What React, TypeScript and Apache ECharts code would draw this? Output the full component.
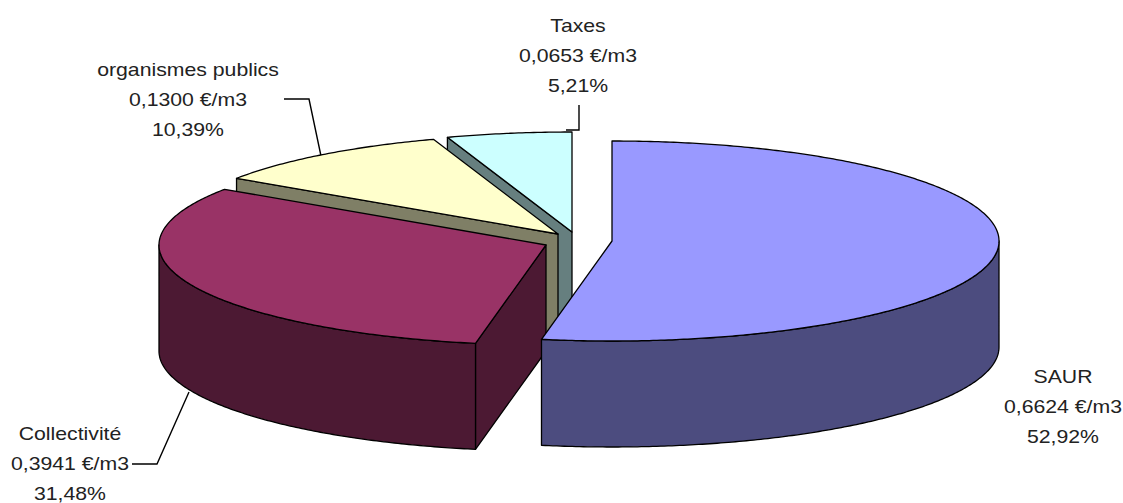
import React, { useEffect, useRef } from "react";
import * as echarts from "echarts";

const categories = ["SAUR", "Collectivité", "organismes publics", "Taxes"];
const values = [0.6624, 0.3941, 0.13, 0.0653];
const valueLabels = ["0,6624 €/m3", "0,3941 €/m3", "0,1300 €/m3", "0,0653 €/m3"];
const percentLabels = ["52,92%", "31,48%", "10,39%", "5,21%"];
const topColors = ["#9999FF", "#993366", "#FFFFCC", "#CCFFFF"];
const sideColors = ["#4C4C7F", "#4C1933", "#7F7F66", "#667F7F"];

// Layout of the exploded 3D pie
const centers = [[612, 241], [546, 245], [558, 234], [572, 232]];
const RX = 387;
const RY = 100;
const DEPTH = 106;
const OUTLINE = "#000";
const labelPos = [[1063, 362], [70, 419], [188, 55], [578, 11]];
const leaders = [
  null,
  [[132, 464], [157, 464], [189, 392]],
  [[284, 99], [309, 99], [321, 156]],
  [[579, 105], [579, 130], [566, 130]],
];

const total = values.reduce((a, b) => a + b, 0);
const startFractions = values.map((_, i) =>
  values.slice(0, i).reduce((a, b) => a + b, 0) / total
);

function arcPoints(cx: number, cy: number, a0: number, a1: number) {
  const n = Math.max(2, Math.ceil(Math.abs(a1 - a0) / 0.01));
  const pts: number[][] = [];
  for (let i = 0; i <= n; i++) {
    const a = a0 + ((a1 - a0) * i) / n;
    pts.push([cx + RX * Math.sin(a), cy - RY * Math.cos(a)]);
  }
  return pts;
}

function renderSlice(_params: any, api: any) {
  const idx = api.value(1) as number;
  const val = api.value(0) as number;
  const [cx, cy] = centers[idx];
  const a0 = startFractions[idx] * Math.PI * 2;
  const a1 = a0 + (val / total) * Math.PI * 2;
  const top = arcPoints(cx, cy, a0, a1);
  const style = (fill: string) => ({ fill, stroke: OUTLINE, lineWidth: 1.3, lineJoin: "round" });
  const children: any[] = [];
  const wall = (p: number[]) => ({
    type: "polygon",
    shape: {
      points: [[cx, cy], p, [p[0], p[1] + DEPTH], [cx, cy + DEPTH]],
    },
    style: style(sideColors[idx]),
  });
  // A cut face shows only when it turns towards the viewer
  if (Math.sin(a0) < -1e-6) children.push(wall(top[0]));
  if (Math.sin(a1) > 1e-6) children.push(wall(top[top.length - 1]));
  const fLo = Math.max(a0, Math.PI / 2);
  const fHi = Math.min(a1, Math.PI * 1.5);
  if (fHi > fLo) {
    const up = arcPoints(cx, cy, fLo, fHi);
    const down = up.map((p) => [p[0], p[1] + DEPTH]).reverse();
    children.push({
      type: "polygon",
      shape: { points: up.concat(down) },
      style: style(sideColors[idx]),
    });
  }
  children.push({
    type: "polygon",
    shape: { points: [[cx, cy], ...top] },
    style: style(topColors[idx]),
  });
  return { type: "group", children };
}

export default function App() {
  const ref = useRef<HTMLDivElement>(null);
  useEffect(() => {
    document.body.style.margin = "0";
    const chart = echarts.init(ref.current!, undefined, { renderer: "svg" });
    const order = values.map((_, i) => i).reverse();
    chart.setOption({
      animation: false,
      backgroundColor: "#fff",
      series: [
        {
          type: "custom",
          coordinateSystem: "none",
          silent: true,
          renderItem: renderSlice,
          encode: {},
          data: order.map((i) => ({ name: categories[i], value: [values[i], i] })),
        },
      ],
      graphic: [
        ...categories.map((c, i) => ({
          type: "text",
          x: labelPos[i][0],
          y: labelPos[i][1],
          scaleX: 1.18,
          silent: true,
          style: {
            text: `${c}\n${valueLabels[i]}\n${percentLabels[i]}`,
            font: '18px "Liberation Sans", Arial, sans-serif',
            lineHeight: 30,
            fill: "#222",
            align: "center",
            verticalAlign: "top",
          },
        })),
        ...leaders
          .filter((l) => l)
          .map((l) => ({
            type: "polyline",
            silent: true,
            shape: { points: l },
            style: { stroke: "#000", lineWidth: 1.4, fill: "none" },
          })),
      ],
    });
    return () => chart.dispose();
  }, []);
  return <div ref={ref} style={{ position: "fixed", left: 0, top: 0, width: 1123, height: 503 }} />;
}
